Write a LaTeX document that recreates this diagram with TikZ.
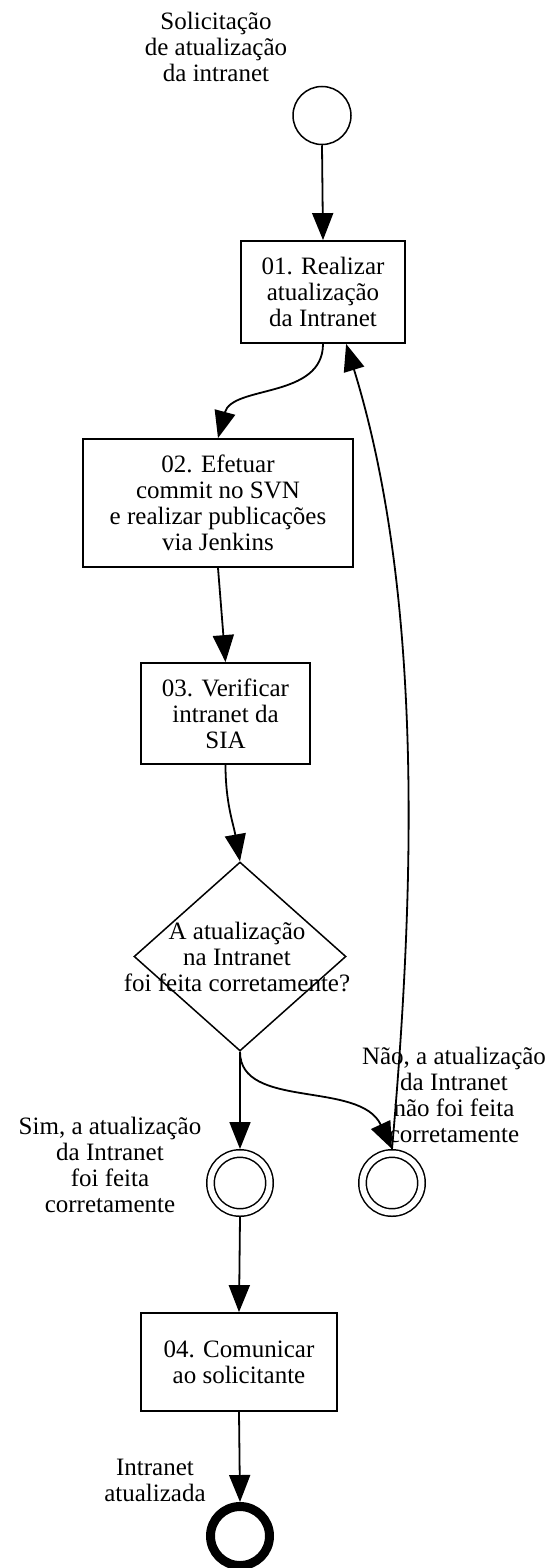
\documentclass[tikz,border=0pt]{standalone}
\usepackage{fontspec}
\setmainfont{Liberation Serif}
\usetikzlibrary{arrows.meta,shapes.geometric}

\begin{document}
\begin{tikzpicture}[x = 1pt, y = 1pt, font = \fontsize{25}{26}\selectfont,
  tarefa/.style = {draw, line width = 1.8pt, align = center, inner sep = 0pt},
  evento/.style = {draw, circle, line width = 1.5pt, minimum size = 58pt, inner sep = 0pt},
  intermed/.style = {draw, circle, line width = 1.5pt, double, double distance = 6pt,
    minimum size = 59pt, inner sep = 0pt, outer sep = 4.5pt},
  fimev/.style = {draw, circle, line width = 9pt, minimum size = 59pt, inner sep = 0pt},
  decisao/.style = {draw, diamond, line width = 1.5pt, minimum width = 212pt,
    minimum height = 189pt, inner sep = 0pt},
  rotulo/.style = {align = center, inner sep = 0pt},
  fluxo/.style = {-{Triangle[length = 27pt, width = 21pt]}, line width = 1.8pt}]
\useasboundingbox (0, 0) rectangle (551, -1568);
\node[evento] (start) at (322, -115.5) {};
\node[rotulo] (lstart) at (216, -47) {Solicitação\\de atualização\\da intranet};
\node[tarefa, minimum width = 164pt, minimum height = 102pt] (t1) at (323, -292)
  {01. Realizar\\atualização\\da Intranet};
\node[tarefa, minimum width = 270pt, minimum height = 128pt] (t2) at (218, -503)
  {02. Efetuar\\commit no SVN\\e realizar publicações\\via Jenkins};
\node[tarefa, minimum width = 169pt, minimum height = 101pt] (t3) at (225.5, -713.5)
  {03. Verificar\\intranet da\\SIA};
\node[decisao] (gw) at (240, -956.5) {};
\node[rotulo] (gwtext) at (237, -957) {A atualização\\na Intranet\\foi feita corretamente?};
\node[intermed] (sim) at (240, -1183) {};
\node[rotulo] (lsim) at (110, -1165) {Sim, a atualização\\da Intranet\\foi feita\\corretamente};
\node[intermed] (nao) at (392, -1183) {};
\node[rotulo] (lnao) at (454, -1095) {Não, a atualização\\da Intranet\\não foi feita\\corretamente};
\node[tarefa, minimum width = 196pt, minimum height = 98pt] (t4) at (239, -1362)
  {04. Comunicar\\ao solicitante};
\node[fimev] (fim) at (240, -1536) {};
\node[rotulo] (lfim) at (155, -1480) {Intranet\\atualizada};
\draw[fluxo] (start.south) -- (t1.north);
\draw[fluxo] (t1.south) to [out = -90, in = 75] (t2.north);
\draw[fluxo] (t2.south) -- (t3.north);
\draw[fluxo] (t3.south) to [out = -90, in = 100] (gw.north);
\draw[fluxo] (gw.south) -- (sim.north);
\draw[fluxo] (gw.south) .. controls (240, -1110) and (360, -1080) .. (nao.north);
\draw[fluxo] (nao.north) .. controls (414, -900) and (425, -600) .. (t1.-66);
\draw[fluxo] (sim.south) -- (t4.north);
\draw[fluxo] (t4.south) -- (fim.north);
\end{tikzpicture}
\end{document}
